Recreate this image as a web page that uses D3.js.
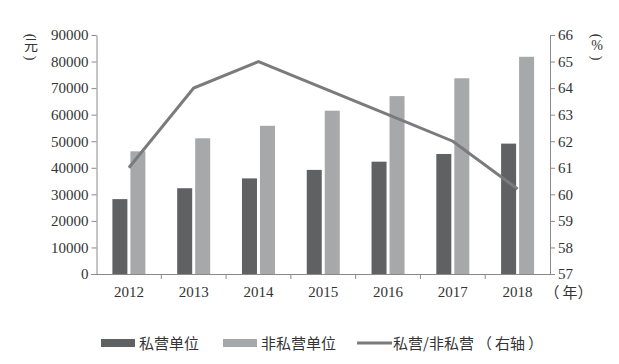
<!DOCTYPE html>
<html>
<head>
<meta charset="utf-8">
<script src="https://cdn.jsdelivr.net/npm/d3@7"></script>
<style>
  body { margin: 0; background: #fff; }
  svg text { fill: #333; }
</style>
</head>
<body>
<svg id="chart" width="619" height="364"></svg>
<script>
var years = ['2012', '2013', '2014', '2015', '2016', '2017', '2018'];
var privateWage = [28200, 32300, 36000, 39200, 42300, 45200, 49100];
var nonPrivateWage = [46200, 51100, 55800, 61500, 67000, 73700, 81800];
var ratio = [61, 64, 65, 64, 63, 62, 60.2];
var leftTicks = [0, 10000, 20000, 30000, 40000, 50000, 60000, 70000, 80000, 90000];
var rightTicks = [57, 58, 59, 60, 61, 62, 63, 64, 65, 66];

var svg = d3.select('#chart');
var serif = '"Liberation Serif", "DejaVu Serif", serif';
var cjk = '"Noto Sans CJK SC", sans-serif';
var axisColor = '#8a8a8a';

var x = d3.scaleBand().domain(years).range([96.5, 550]);
var yL = d3.scaleLinear().domain([0, 90000]).range([274, 35]);
var yR = d3.scaleLinear().domain([57, 66]).range([274, 35]);

// bars
var bw = 15;
svg.append('g').selectAll('rect').data(years).enter().append('rect')
  .attr('x', (d) => x(d) + x.bandwidth() / 2 - bw - 1.5)
  .attr('y', (d, i) => yL(privateWage[i]))
  .attr('width', bw)
  .attr('height', (d, i) => yL(0) - yL(privateWage[i]))
  .attr('fill', '#606163');

svg.append('g').selectAll('rect').data(years).enter().append('rect')
  .attr('x', (d) => x(d) + x.bandwidth() / 2 + 1.5)
  .attr('y', (d, i) => yL(nonPrivateWage[i]))
  .attr('width', bw)
  .attr('height', (d, i) => yL(0) - yL(nonPrivateWage[i]))
  .attr('fill', '#a7a8aa');

// axes
function styleAxis(g) {
  g.select('.domain').attr('stroke', axisColor);
  g.selectAll('.tick line').attr('stroke', axisColor);
  g.selectAll('.tick text').attr('font-family', serif).attr('font-size', 15).attr('fill', '#333');
}

svg.append('g').attr('transform', 'translate(96.5,0)')
  .call(d3.axisLeft(yL).tickValues(leftTicks).tickSize(5).tickSizeOuter(0).tickFormat(d3.format('d')).tickPadding(3))
  .call(styleAxis);

svg.append('g').attr('transform', 'translate(550,0)')
  .call(d3.axisRight(yR).tickValues(rightTicks).tickSize(5).tickSizeOuter(0).tickPadding(3))
  .call(styleAxis);

var xAxis = svg.append('g').attr('transform', 'translate(0,274)')
  .call(d3.axisBottom(x).tickSize(0).tickPadding(12))
  .call(styleAxis);
xAxis.select('.domain').attr('d', 'M91,0.5H555');
// boundary ticks between categories
xAxis.selectAll('.sep').data(years.slice(1)).enter().append('line')
  .attr('class', 'sep')
  .attr('x1', (d) => x(d)).attr('x2', (d) => x(d))
  .attr('y1', 0).attr('y2', 5)
  .attr('stroke', axisColor);

// unit of x axis: （年）
[['（', 552], ['年', 570], ['）', 585]].forEach(function(p) {
  svg.append('text').attr('x', p[1]).attr('y', 298).attr('text-anchor', 'middle')
    .attr('font-family', cjk).attr('font-size', 15).text(p[0]);
});

// line
var line = d3.line()
  .x((d, i) => x(years[i]) + x.bandwidth() / 2)
  .y((d) => yR(d));
svg.append('path').datum(ratio)
  .attr('d', line)
  .attr('fill', 'none')
  .attr('stroke', '#7b7b7d')
  .attr('stroke-width', 3);

// unit labels, written vertically with rotated brackets
function vertLabel(cx, label, font) {
  var g = svg.append('g').attr('font-size', 14);
  g.append('text').attr('transform', 'translate(' + cx + ',36) rotate(90)')
    .attr('text-anchor', 'middle').attr('dy', '0.35em')
    .attr('font-family', serif).text('(');
  g.append('text').attr('x', cx).attr('y', 50)
    .attr('text-anchor', 'middle').attr('font-family', font).text(label);
  g.append('text').attr('transform', 'translate(' + cx + ',58) rotate(90)')
    .attr('text-anchor', 'middle').attr('dy', '0.35em')
    .attr('font-family', serif).text(')');
}
vertLabel(31, '元', cjk);
vertLabel(597, '%', serif);

// legend
var lg = svg.append('g').attr('font-family', cjk).attr('font-size', 15);
lg.append('rect').attr('x', 101).attr('y', 339).attr('width', 34).attr('height', 8).attr('fill', '#606163');
lg.append('text').attr('x', 139).attr('y', 349).text('私营单位');
lg.append('rect').attr('x', 223).attr('y', 339).attr('width', 34).attr('height', 8).attr('fill', '#a7a8aa');
lg.append('text').attr('x', 261).attr('y', 349).text('非私营单位');
lg.append('line').attr('x1', 357).attr('x2', 392).attr('y1', 343).attr('y2', 343)
  .attr('stroke', '#7b7b7d').attr('stroke-width', 3);
var lt = lg.append('text').attr('x', 393).attr('y', 349);
lt.append('tspan').text('私营/非私营');
lt.append('tspan').attr('dx', 3).text('（');
lt.append('tspan').attr('dx', 3).text('右轴');
lt.append('tspan').attr('dx', 3).text('）');
</script>
</body>
</html>
